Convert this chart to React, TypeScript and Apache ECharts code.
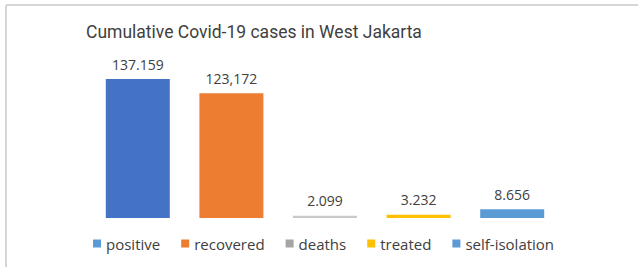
import React, { useEffect, useRef } from "react";
import * as echarts from "echarts";

const categories = ["positive", "recovered", "deaths", "treated", "self-isolation"];
const values = [137159, 123172, 2099, 3232, 8656];
const valueLabels = ["137.159", "123,172", "2.099", "3.232", "8.656"];
const barColors = ["#4472C4", "#ED7D31", "#C9C9C9", "#FFC000", "#5B9BD5"];
const legendColors = ["#5B9BD5", "#ED7D31", "#A5A5A5", "#FFC000", "#5B9BD5"];
const titleText = "Cumulative Covid-19 cases in West Jakarta";

export default function App() {
  const ref = useRef<HTMLDivElement>(null);
  useEffect(() => {
    if (!ref.current) return;
    const chart = echarts.init(ref.current, undefined, { renderer: "svg" });
    const font = "Roboto, 'Noto Sans', sans-serif";
    const font2 = "'Open Sans', Roboto, sans-serif";
    chart.setOption({
      animation: false,
      backgroundColor: "#ffffff",
      title: {
        text: titleText,
        left: 81,
        top: 18,
        textStyle: { fontFamily: font, fontSize: 17.5, fontWeight: "normal", color: "#404040" },
      },
      legend: {
        bottom: 11,
        left: 88,
        itemWidth: 8,
        itemHeight: 8,
        itemGap: 21,
        icon: "rect",
        textStyle: { fontFamily: font2, fontSize: 15, color: "#404040" },
        data: categories.map((c, i) => ({ name: c, itemStyle: { color: legendColors[i] } })),
      },
      grid: { left: 91, right: 79, top: 79, bottom: 49 },
      xAxis: {
        type: "category",
        data: categories,
        show: false,
      },
      yAxis: { type: "value", min: 0, max: "dataMax", show: false },
      graphic: [
        { type: "line", shape: { x1: 6, y1: 5, x2: 638, y2: 5 }, style: { stroke: "#d6d6d6", lineWidth: 2 } },
        { type: "line", shape: { x1: 6, y1: 5, x2: 6, y2: 267 }, style: { stroke: "#d6d6d6", lineWidth: 2 } },
      ],
      series: categories.map((c, i) => ({
        name: c,
        type: "bar",
        barWidth: 64,
        barGap: "-100%",
        itemStyle: { color: barColors[i] },
        data: categories.map((_, j) => (j === i ? values[i] : null)),
        label: {
          show: true,
          position: "top",
          distance: 8,
          fontFamily: font2,
          fontSize: 14,
          color: "#404040",
          formatter: () => valueLabels[i],
        },
      })),
    });
    return () => chart.dispose();
  }, []);
  return <div ref={ref} style={{ position: "fixed", left: 0, top: 0, width: 638, height: 267 }} />;
}
